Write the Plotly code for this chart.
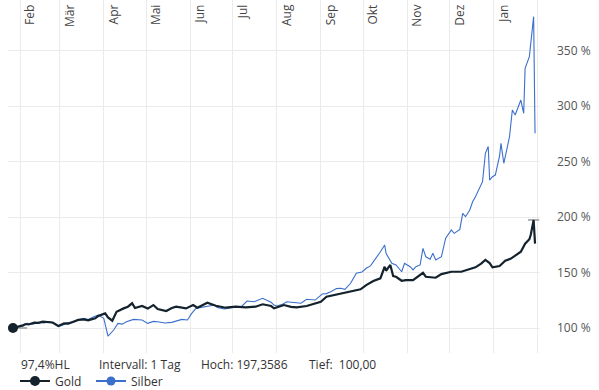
import plotly.graph_objects as go

# ---------------- data ----------------
gold_dates = ["2025-01-27","2025-01-29","2025-01-31","2025-02-03","2025-02-05","2025-02-07","2025-02-11","2025-02-14",
              "2025-02-17","2025-02-20","2025-02-24","2025-02-28","2025-03-04","2025-03-07","2025-03-11","2025-03-14",
              "2025-03-18","2025-03-21","2025-03-26","2025-03-28","2025-04-02","2025-04-04","2025-04-07","2025-04-10",
              "2025-04-15","2025-04-18","2025-04-21","2025-04-23","2025-04-28","2025-05-02","2025-05-06","2025-05-09",
              "2025-05-15","2025-05-19","2025-05-22","2025-05-29","2025-06-03","2025-06-06","2025-06-13","2025-06-19",
              "2025-06-26","2025-07-03","2025-07-10","2025-07-17","2025-07-22","2025-07-28","2025-07-30","2025-08-06",
              "2025-08-11","2025-08-15","2025-08-22","2025-09-01","2025-09-05","2025-09-10","2025-09-15","2025-09-22",
              "2025-09-29","2025-10-03","2025-10-08","2025-10-13","2025-10-16","2025-10-17","2025-10-20","2025-10-22",
              "2025-10-24","2025-10-28","2025-10-31","2025-11-05","2025-11-10","2025-11-12","2025-11-14","2025-11-21",
              "2025-11-25","2025-12-02","2025-12-09","2025-12-15","2025-12-19","2025-12-23","2025-12-26","2025-12-29",
              "2025-12-31","2026-01-05","2026-01-09","2026-01-13","2026-01-16","2026-01-20","2026-01-23","2026-01-26",
              "2026-01-27","2026-01-28","2026-01-29","2026-01-30"]
gold_values = [100.0,100.6,101.8,102.4,103.6,103.2,104.8,104.6,
               105.7,105.4,105.0,101.8,104.2,103.9,105.7,107.3,
               107.8,107.0,108.7,110.8,113.2,109.5,106.6,114.7,
               117.7,119.2,122.3,118.0,119.8,117.5,120.7,117.1,
               115.3,118.0,119.2,117.7,120.7,118.3,122.8,120.1,
               118.3,119.2,118.6,119.2,121.4,119.8,117.7,120.7,
               119.0,118.6,119.8,123.7,128.2,129.5,130.6,132.7,
               134.9,138.7,142.3,144.8,155.2,151.6,156.8,146.8,
               146.2,142.6,143.2,143.2,147.7,149.8,146.2,145.3,
               148.6,150.7,150.7,152.9,154.7,158.0,161.3,158.5,
               154.7,155.9,160.6,162.5,164.9,168.7,176.0,180.0,
               184.0,190.0,197.3586,176.0]

silver_dates = ["2025-01-27","2025-01-29","2025-01-31","2025-02-03","2025-02-06","2025-02-10","2025-02-14","2025-02-18",
                "2025-02-21","2025-02-25","2025-02-28","2025-03-03","2025-03-06","2025-03-11","2025-03-14","2025-03-18",
                "2025-03-21","2025-03-25","2025-03-28","2025-04-01","2025-04-03","2025-04-04","2025-04-08","2025-04-11",
                "2025-04-14","2025-04-17","2025-04-22","2025-04-28","2025-05-02","2025-05-06","2025-05-09","2025-05-14",
                "2025-05-19","2025-05-22","2025-05-26","2025-05-30","2025-06-02","2025-06-05","2025-06-09","2025-06-12",
                "2025-06-18","2025-06-20","2025-06-25","2025-06-30","2025-07-07","2025-07-11","2025-07-16","2025-07-22",
                "2025-07-28","2025-07-30","2025-08-01","2025-08-05","2025-08-08","2025-08-13","2025-08-18","2025-08-22",
                "2025-08-28","2025-09-02","2025-09-05","2025-09-08","2025-09-12","2025-09-15","2025-09-18","2025-09-22",
                "2025-09-26","2025-09-30","2025-10-03","2025-10-06","2025-10-09","2025-10-13","2025-10-16","2025-10-17",
                "2025-10-21","2025-10-24","2025-10-28","2025-10-30","2025-11-03","2025-11-05","2025-11-07","2025-11-10",
                "2025-11-12","2025-11-14","2025-11-17","2025-11-19","2025-11-21","2025-11-25","2025-11-28","2025-12-02",
                "2025-12-04","2025-12-08","2025-12-10","2025-12-12","2025-12-15","2025-12-17","2025-12-19","2025-12-23",
                "2025-12-24","2025-12-26","2025-12-28","2025-12-29","2025-12-31","2026-01-02","2026-01-05","2026-01-06",
                "2026-01-08","2026-01-12","2026-01-14","2026-01-16","2026-01-19","2026-01-20","2026-01-22","2026-01-23",
                "2026-01-26","2026-01-28","2026-01-29","2026-01-30"]
silver_values = [100.0,100.8,101.5,101.8,104.2,103.5,105.1,104.6,
                 105.7,104.0,101.2,102.5,104.8,105.7,107.5,108.7,
                 107.6,110.2,111.7,108.7,96.7,92.8,98.2,104.2,
                 103.5,105.7,107.8,107.2,104.2,106.0,105.7,104.5,
                 105.1,106.5,107.8,107.2,113.2,117.7,118.5,119.2,
                 120.7,118.6,117.1,118.3,119.2,124.3,123.7,126.8,
                 123.2,120.7,119.8,121.5,123.7,123.0,122.3,125.9,
                 125.2,130.6,131.0,132.7,135.5,135.8,134.8,140.3,
                 149.3,150.5,153.8,156.0,161.3,168.7,174.8,167.3,
                 158.3,156.8,150.7,158.3,155.2,152.3,155.2,156.8,
                 171.8,164.2,161.9,167.3,161.3,164.2,181.0,188.3,
                 185.3,188.9,203.3,200.3,206.3,213.8,218.3,230.4,
                 231.8,257.4,263.6,233.3,236.3,237.8,255.0,266.4,
                 248.4,272.3,296.4,291.9,300.9,305.4,293.4,334.0,
                 344.4,365.5,380.5,275.4]

month_ticks = ["2025-02-01","2025-03-01","2025-04-01","2025-05-01","2025-06-01","2025-07-01","2025-08-01",
               "2025-09-01","2025-10-01","2025-11-01","2025-12-01","2026-01-01","2026-02-01"]
month_labels = ["Feb","Mär","Apr","Mai","Jun","Jul","Aug","Sep","Okt","Nov","Dez","Jan",""]
y_ticks = [100, 150, 200, 250, 300, 350]
y_labels = [f"{v} %" for v in y_ticks]

x_range = ["2025-01-23 12:00", "2026-02-02 12:00"]
y_range = [77.5, 395.5]
marker_date = "2026-02-04 20:00"

GOLD = "#13222c"
SILVER = "#3a6fcc"
GRID = "#ebebeb"
FONT = "Open Sans"

# ---------------- figure ----------------
fig = go.Figure()

hoch = max(gold_values)
tief = min(gold_values)
tief_date = gold_dates[gold_values.index(tief)]

# high / low indicator lines
fig.add_trace(go.Scatter(x=["2026-01-25", "2026-02-02"], y=[hoch, hoch], mode="lines",
                         line=dict(color="#9a9a9a", width=1.5), showlegend=False, hoverinfo="skip",
                         cliponaxis=False))
fig.add_trace(go.Scatter(x=[tief_date, "2025-02-06"], y=[tief, tief], mode="lines",
                         line=dict(color="#9a9a9a", width=1.5), showlegend=False, hoverinfo="skip"))

fig.add_trace(go.Scatter(x=silver_dates, y=silver_values, mode="lines",
                         line=dict(color=SILVER, width=1.1), showlegend=False))
fig.add_trace(go.Scatter(x=gold_dates, y=gold_values, mode="lines",
                         line=dict(color=GOLD, width=2.2), showlegend=False))

# start marker
fig.add_trace(go.Scatter(x=[gold_dates[0]], y=[gold_values[0]], mode="markers",
                         marker=dict(color=GOLD, size=10), showlegend=False, cliponaxis=False))

# end markers (also legend entries)
fig.add_trace(go.Scatter(x=[marker_date], y=[gold_values[-1]], mode="lines+markers", name="Gold",
                         line=dict(color=GOLD, width=2.2), marker=dict(color=GOLD, size=10),
                         cliponaxis=False))
fig.add_trace(go.Scatter(x=[marker_date], y=[silver_values[-1]], mode="lines+markers", name="Silber",
                         line=dict(color=SILVER, width=2.2), marker=dict(color=SILVER, size=9),
                         cliponaxis=False))
fig.add_trace(go.Scatter(x=[marker_date], y=[silver_values[-1]], mode="markers",
                         marker=dict(symbol="line-ew", size=8, line=dict(color="white", width=1.5)),
                         showlegend=False, cliponaxis=False))

W, H = 599, 390
ML, MR, MT, MB = 8, 59, 0, 37
pw = W - ML - MR
ph = H - MT - MB


def px_x(p):
    return (p - ML) / pw


def px_y(p):
    return (H - MB - p) / ph


def de(v, nd):
    return f"{v:.{nd}f}".replace(".", ",")


hl = (hoch - tief) / tief * 100
info = [
    (19, f"{de(hl, 1)}%HL"),
    (97, "Intervall: 1 Tag"),
    (199, f"Hoch: {de(hoch, 4)}"),
    (307, f"Tief:  {de(tief, 2)}"),
]
annotations = [dict(x=px_x(px), y=px_y(364), xref="paper", yref="paper", text=t, showarrow=False,
                    xanchor="left", yanchor="middle", font=dict(family=FONT, size=12, color="#333333"))
               for px, t in info]

fig.update_layout(
    width=W, height=H,
    margin=dict(l=ML, r=MR, t=MT, b=MB, autoexpand=False),
    paper_bgcolor="white", plot_bgcolor="white",
    font=dict(family=FONT, size=12, color="#444444"),
    showlegend=True,
    legend=dict(orientation="h", x=px_x(15), y=px_y(381), xanchor="left", yanchor="middle",
                font=dict(family=FONT, size=12, color="#333333"), bgcolor="rgba(0,0,0,0)",
                itemwidth=30, tracegroupgap=0, entrywidth=31, entrywidthmode="pixels"),
    annotations=annotations,
    xaxis=dict(type="date", range=x_range, side="top", tickmode="array", tickvals=month_ticks,
               ticktext=month_labels, tickangle=-90, ticklabelposition="inside", ticklabelshift=10,
               ticklabelstandoff=-5, automargin=False,
               showgrid=True, gridcolor=GRID, gridwidth=1, zeroline=False, showline=False, ticks="",
               tickfont=dict(family=FONT, size=12, color="#444444"), fixedrange=True),
    yaxis=dict(range=y_range, side="right", tickmode="array", tickvals=y_ticks, ticktext=y_labels,
               showgrid=True, gridcolor=GRID, gridwidth=1, zeroline=False, showline=False, ticks="",
               ticklabelstandoff=16, automargin=False,
               tickfont=dict(family=FONT, size=12, color="#555555"), fixedrange=True),
)

fig.write_html("out.html", config={"displayModeBar": False},
               post_script="document.body.style.margin='0';document.body.style.padding='0';")
